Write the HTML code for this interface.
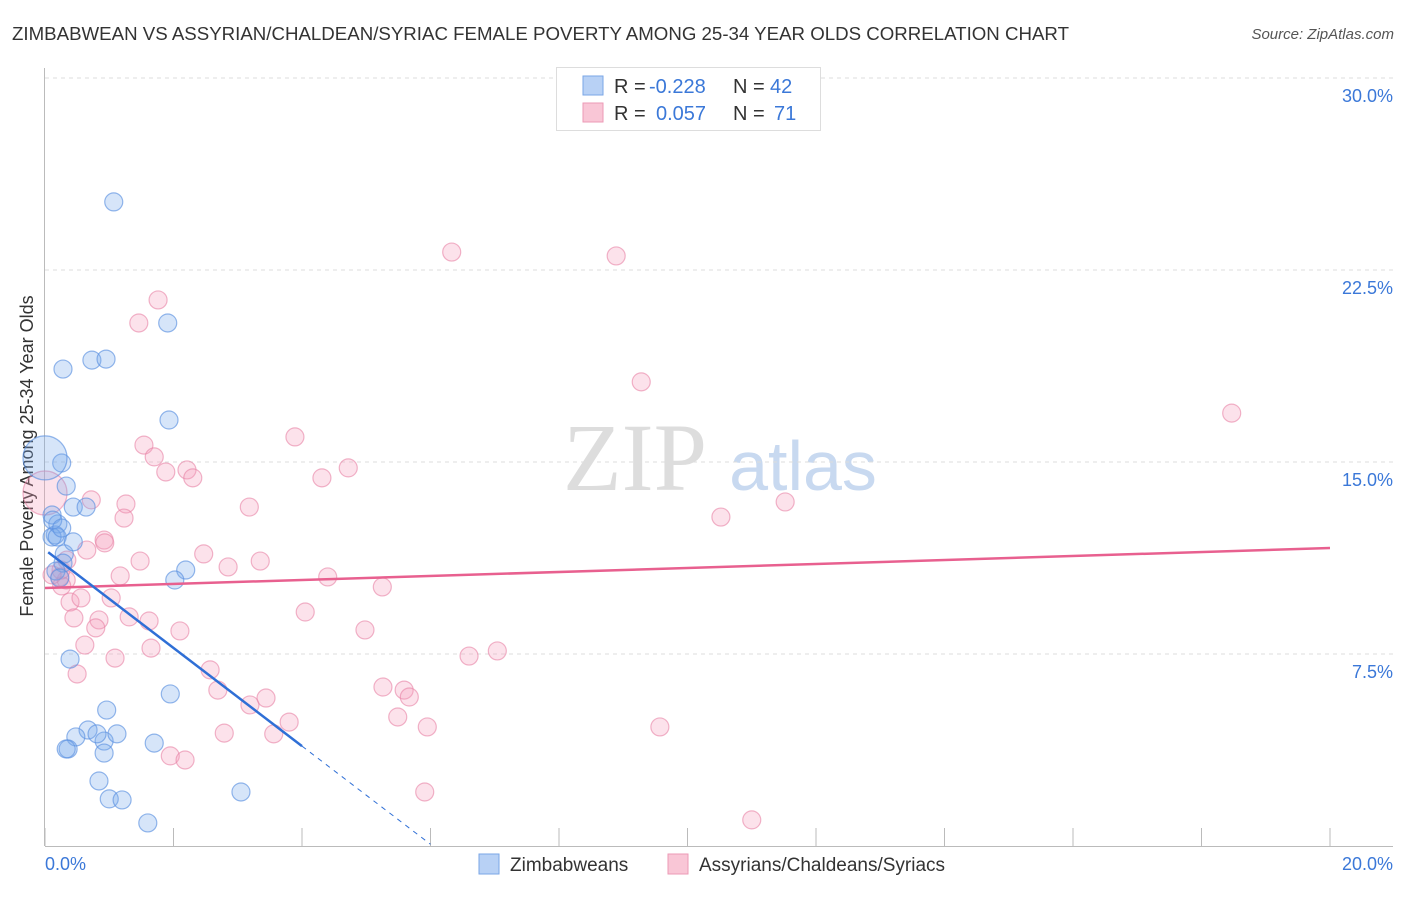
<!DOCTYPE html>
<html><head><meta charset="utf-8">
<style>
body{margin:0;background:#fff;font-family:"Liberation Sans",sans-serif;}
svg text{font-family:"Liberation Sans",sans-serif;}
</style></head>
<body>
<svg id="chart" width="1406" height="892" viewBox="0 0 1406 892" xmlns="http://www.w3.org/2000/svg">
<text x="12" y="40" font-size="18.5" fill="#333" textLength="1057" lengthAdjust="spacingAndGlyphs">ZIMBABWEAN VS ASSYRIAN/CHALDEAN/SYRIAC FEMALE POVERTY AMONG 25-34 YEAR OLDS CORRELATION CHART</text>
<text x="1394" y="39" font-size="15" fill="#555" font-style="italic" text-anchor="end">Source: ZipAtlas.com</text>
<text transform="translate(33,456) rotate(-90)" font-size="18" fill="#333" text-anchor="middle">Female Poverty Among 25-34 Year Olds</text>
<g>
<text x="635" y="490" font-size="96" fill="#ddd" text-anchor="middle" style="font-family:'Liberation Serif',serif">ZIP</text>
<text x="803" y="490" font-size="70" fill="#c8d9f0" text-anchor="middle">atlas</text>
</g>
<g id="grid"></g>
<g id="axes"></g>
<g id="marks"></g>
<g id="trends"></g>
<g>
<rect x="556.5" y="67.5" width="264" height="63" fill="#fff" stroke="#ddd"/>
<rect x="583" y="76" width="20" height="19" fill="#b8d1f5" stroke="#7aa6e6"/>
<rect x="583" y="103" width="20" height="19" fill="#f9c6d6" stroke="#ec9ab6"/>
<text x="614" y="93" font-size="20" fill="#333">R = </text><text x="649" y="93" font-size="20" fill="#3b78d8">-0.228</text>
<text x="733" y="93" font-size="20" fill="#333">N = </text><text x="770" y="93" font-size="20" fill="#3b78d8">42</text>
<text x="614" y="120" font-size="20" fill="#333">R = </text><text x="656" y="120" font-size="20" fill="#3b78d8">0.057</text>
<text x="733" y="120" font-size="20" fill="#333">N = </text><text x="774" y="120" font-size="20" fill="#3b78d8">71</text>
</g>
<g>
<rect x="479" y="854" width="20" height="20" fill="#b8d1f5" stroke="#7aa6e6"/>
<text x="510" y="871" font-size="19" fill="#333">Zimbabweans</text>
<rect x="668" y="854" width="20" height="20" fill="#f9c6d6" stroke="#ec9ab6"/>
<text x="699" y="871" font-size="19" fill="#333">Assyrians/Chaldeans/Syriacs</text>
</g>
</svg>
<script>
const yTicks=[7.5,15,22.5,30];
const yTickLabels=["7.5%","15.0%","22.5%","30.0%"];
const xTicks=[0,2,4,6,8,10,12,14,16,18,20];
const xEndLabels=["0.0%","20.0%"];
const blueX=[1.07,1.91,0.28,0.73,0.95,1.93,0.26,0.33,0.44,0.64,0.11,0.20,0.16,0.11,0.19,0.30,0.44,0.28,0.17,0.23,2.19,2.02,0.39,0.96,1.95,0.67,0.48,0.92,1.12,0.81,0.92,0.36,0.33,1.70,0.84,1.00,1.20,3.05,1.60,0,0.12,0.26];
const blueY=[25.16,20.43,18.63,18.98,19.02,16.64,14.96,14.06,13.24,13.24,12.93,12.58,12.15,12.07,12.07,11.41,11.88,11.05,10.74,10.47,10.78,10.39,7.30,5.31,5.94,4.53,4.26,4.10,4.38,4.38,3.63,3.79,3.79,4.02,2.54,1.84,1.80,2.11,0.90,15.16,12.73,12.42];
const pinkX=[6.33,8.89,1.76,1.46,9.28,18.47,3.89,1.54,1.70,2.21,1.88,2.30,4.31,4.72,0.72,1.26,1.23,3.18,11.52,10.52,0.92,0.65,0.93,1.48,2.47,3.35,2.85,1.17,4.40,5.25,0,0.23,0.33,0.26,0.39,0.56,1.03,0.45,0.84,1.31,1.62,0.79,2.10,4.05,4.98,0.62,1.65,1.09,0.50,2.57,2.69,3.19,3.44,5.26,5.59,5.67,6.60,7.04,3.56,3.80,5.49,5.95,2.79,9.57,1.95,2.18,5.91,11.00,0.25,0.11,0.34];
const pinkY=[23.20,23.05,21.33,20.43,18.13,16.91,15.98,15.66,15.20,14.69,14.61,14.38,14.38,14.77,13.52,13.36,12.81,13.24,13.44,12.85,11.95,11.56,11.84,11.13,11.41,11.13,10.90,10.55,10.51,10.12,13.79,10.51,10.39,10.16,9.53,9.69,9.69,8.91,8.83,8.95,8.79,8.52,8.40,9.14,8.44,7.85,7.73,7.34,6.72,6.88,6.09,5.51,5.78,6.21,6.09,5.82,7.42,7.62,4.38,4.84,5.04,4.65,4.41,4.65,3.52,3.36,2.11,1.02,10.78,10.59,11.17];
const blueTrend=[11.57,-1.917];
const pinkTrend=[10.08,0.078];
const blueBig=[39], pinkBig=[30];
const X=v=>45+v*64.25, Y=v=>846-v*25.6;
const NS="http://www.w3.org/2000/svg";
function mk(tag,attrs,parent){const e=document.createElementNS(NS,tag);for(const k in attrs)e.setAttribute(k,attrs[k]);document.getElementById(parent).appendChild(e);return e;}
yTicks.forEach((t,i)=>{
 const l=mk('line',{x1:45,x2:1393,y1:Y(t),y2:Y(t),stroke:'#ddd','stroke-dasharray':'4,4'},'grid');
 
 
 const tx=mk('text',{x:1393,y:Y(t)+24,'font-size':18,fill:'#3b78d8','text-anchor':'end'},'grid');
 tx.textContent=yTickLabels[i];
 
 
});
let a=mk('line',{x1:44.5,x2:44.5,y1:68,y2:846,stroke:'#bbb'},'axes');


a=mk('line',{x1:45,x2:1393,y1:846.5,y2:846.5,stroke:'#bbb'},'axes');


xTicks.forEach(t=>{const l=mk('line',{x1:X(t),x2:X(t),y1:828,y2:846,stroke:'#bbb'},'axes');
 
 });
let t0=mk('text',{x:45,y:870,'font-size':18,fill:'#3b78d8'},'axes');t0.textContent=xEndLabels[0];


let t1=mk('text',{x:1393,y:870,'font-size':18,fill:'#3b78d8','text-anchor':'end'},'axes');t1.textContent=xEndLabels[1];


pinkX.forEach((v,i)=>{const c=mk('circle',{cx:X(v),cy:Y(pinkY[i]),r:pinkBig.includes(i)?22:9,fill:'rgba(244,160,190,0.3)',stroke:'rgba(232,130,165,0.6)','stroke-width':1.2},'marks');
 
 });
blueX.forEach((v,i)=>{const c=mk('circle',{cx:X(v),cy:Y(blueY[i]),r:blueBig.includes(i)?22:9,fill:'rgba(120,170,235,0.3)',stroke:'rgba(90,145,225,0.65)','stroke-width':1.2},'marks');
 
 });
let p=mk('line',{x1:X(0),y1:Y(pinkTrend[0]),x2:X(20),y2:Y(pinkTrend[0]+pinkTrend[1]*20),stroke:'#e8608f','stroke-width':2.5},'trends');


let b=mk('line',{x1:X(0.05),y1:Y(blueTrend[0]+blueTrend[1]*0.05),x2:X(4),y2:Y(blueTrend[0]+blueTrend[1]*4),stroke:'#2f6fd6','stroke-width':2.5},'trends');


let bd=mk('line',{x1:X(4),y1:Y(blueTrend[0]+blueTrend[1]*4),x2:X(6),y2:Y(blueTrend[0]+blueTrend[1]*6),stroke:'#2f6fd6','stroke-width':1,'stroke-dasharray':'5,5'},'trends');


</script>
</body></html>
